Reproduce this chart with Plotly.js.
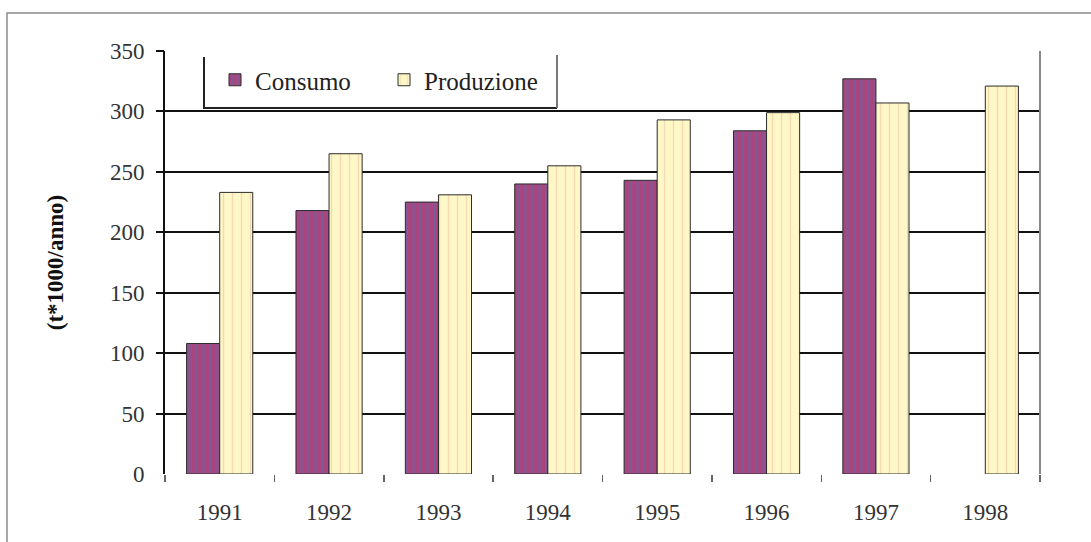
<!DOCTYPE html>
<html>
<head>
<meta charset="utf-8">
<script src="https://cdn.plot.ly/plotly-3.0.1.min.js"></script>
<style>
html,body{margin:0;padding:0;background:#fff;}
#chart{width:1091px;height:542px;}
</style>
</head>
<body>
<div id="chart"></div>
<script>
var years = ['1991','1992','1993','1994','1995','1996','1997','1998'];
var consumo = [108, 218, 225, 240, 243, 284, 327, null];
var produzione = [233, 265, 231, 255, 293, 299, 307, 321];
var yLabelVals = [0, 50, 100, 150, 200, 250, 300, 350];
var yGridVals = [50, 100, 150, 200, 250, 300, 350];
var seriesNames = ['Consumo', 'Produzione'];
var yTitle = '(t*1000/anno)';

var W = 1091, H = 542;
var mL = 165, mR = 51, mT = 51, mB = 68;
var pw = W - mL - mR, ph = H - mT - mB;
function px2x(p){ return (p - mL) / pw; }
function py2y(p){ return (H - mB - p) / ph; }

var font = 'Liberation Serif, Times New Roman, serif';

var traces = [
  {
    type: 'bar', name: seriesNames[0], x: years, y: consumo,
    marker: {
      color: '#a5467f',
      line: {color: '#2b2b2b', width: 1},
      pattern: {shape: '|', fgcolor: '#7f5a96', bgcolor: '#a8467f', size: 7, solidity: 0.3}
    },
    yaxis: 'y'
  },
  {
    type: 'bar', name: seriesNames[1], x: years, y: produzione,
    marker: {
      color: '#fdf6c6',
      line: {color: '#2b2b2b', width: 1},
      pattern: {shape: '|', fgcolor: '#f6d8b4', bgcolor: '#fef8c8', size: 9, solidity: 0.15}
    },
    yaxis: 'y'
  },
  {
    type: 'scatter', x: years, y: [null,null,null,null,null,null,null,null],
    yaxis: 'y2', showlegend: false, hoverinfo: 'skip'
  }
];

var layout = {
  width: W, height: H,
  margin: {l: mL, r: mR, t: mT, b: mB, pad: 0},
  paper_bgcolor: '#ffffff',
  plot_bgcolor: 'rgba(0,0,0,0)',
  barmode: 'group',
  bargap: 0.395,
  bargroupgap: 0,
  font: {family: font, size: 23, color: '#333'},
  showlegend: true,
  legend: {
    orientation: 'h',
    x: px2x(215), xanchor: 'left',
    y: py2y(57), yanchor: 'top',
    bgcolor: 'rgba(0,0,0,0)',
    borderwidth: 0,
    entrywidth: 124,
    font: {family: font, size: 25, color: '#222'}
  },
  xaxis: {
    type: 'category',
    showgrid: false,
    zeroline: false,
    showline: false,
    ticks: 'outside',
    tickson: 'boundaries',
    ticklen: 7,
    tickwidth: 1.5,
    tickcolor: '#666',
    ticklabelstandoff: 22,
    tickfont: {family: font, size: 23, color: '#333'}
  },
  yaxis: {
    range: [0, 350],
    tickmode: 'array',
    tickvals: yLabelVals,
    ticktext: yLabelVals.map(String),
    showgrid: false,
    zeroline: false,
    showline: true,
    linecolor: '#111',
    linewidth: 2,
    ticks: '',
    ticklabelstandoff: 14,
    tickfont: {family: font, size: 23, color: '#333'},
    title: {text: yTitle, standoff: 40, font: {family: font, size: 23, color: '#111', weight: 'bold'}}
  },
  yaxis2: {
    overlaying: 'y',
    side: 'left',
    range: [0, 350],
    tickmode: 'array',
    tickvals: yGridVals,
    showgrid: true,
    gridcolor: '#111',
    gridwidth: 2,
    zeroline: false,
    showline: false,
    ticks: 'outside',
    ticklen: 8,
    tickwidth: 2,
    tickcolor: '#111',
    showticklabels: false
  },
  shapes: [
    {type: 'line', xref: 'paper', yref: 'paper', x0: 1, x1: 1, y0: 0, y1: 1,
     line: {color: '#888', width: 2}},
    {type: 'path', xref: 'paper', yref: 'paper',
     path: 'M ' + px2x(7) + ' ' + py2y(560) + ' L ' + px2x(7) + ' ' + py2y(13) + ' L ' + px2x(1100) + ' ' + py2y(13),
     line: {color: '#8a8a8a', width: 1.5}},
    {type: 'path', xref: 'paper', yref: 'paper',
     path: 'M ' + px2x(204) + ' ' + py2y(57) + ' L ' + px2x(204) + ' ' + py2y(108) + ' L ' + px2x(557) + ' ' + py2y(108),
     line: {color: '#222', width: 2}},
    {type: 'path', xref: 'paper', yref: 'paper',
     path: 'M ' + px2x(557) + ' ' + py2y(108) + ' L ' + px2x(557) + ' ' + py2y(55),
     line: {color: '#777', width: 2}}
  ]
};

Plotly.newPlot('chart', traces, layout, {displayModeBar: false, staticPlot: true});
</script>
</body>
</html>
